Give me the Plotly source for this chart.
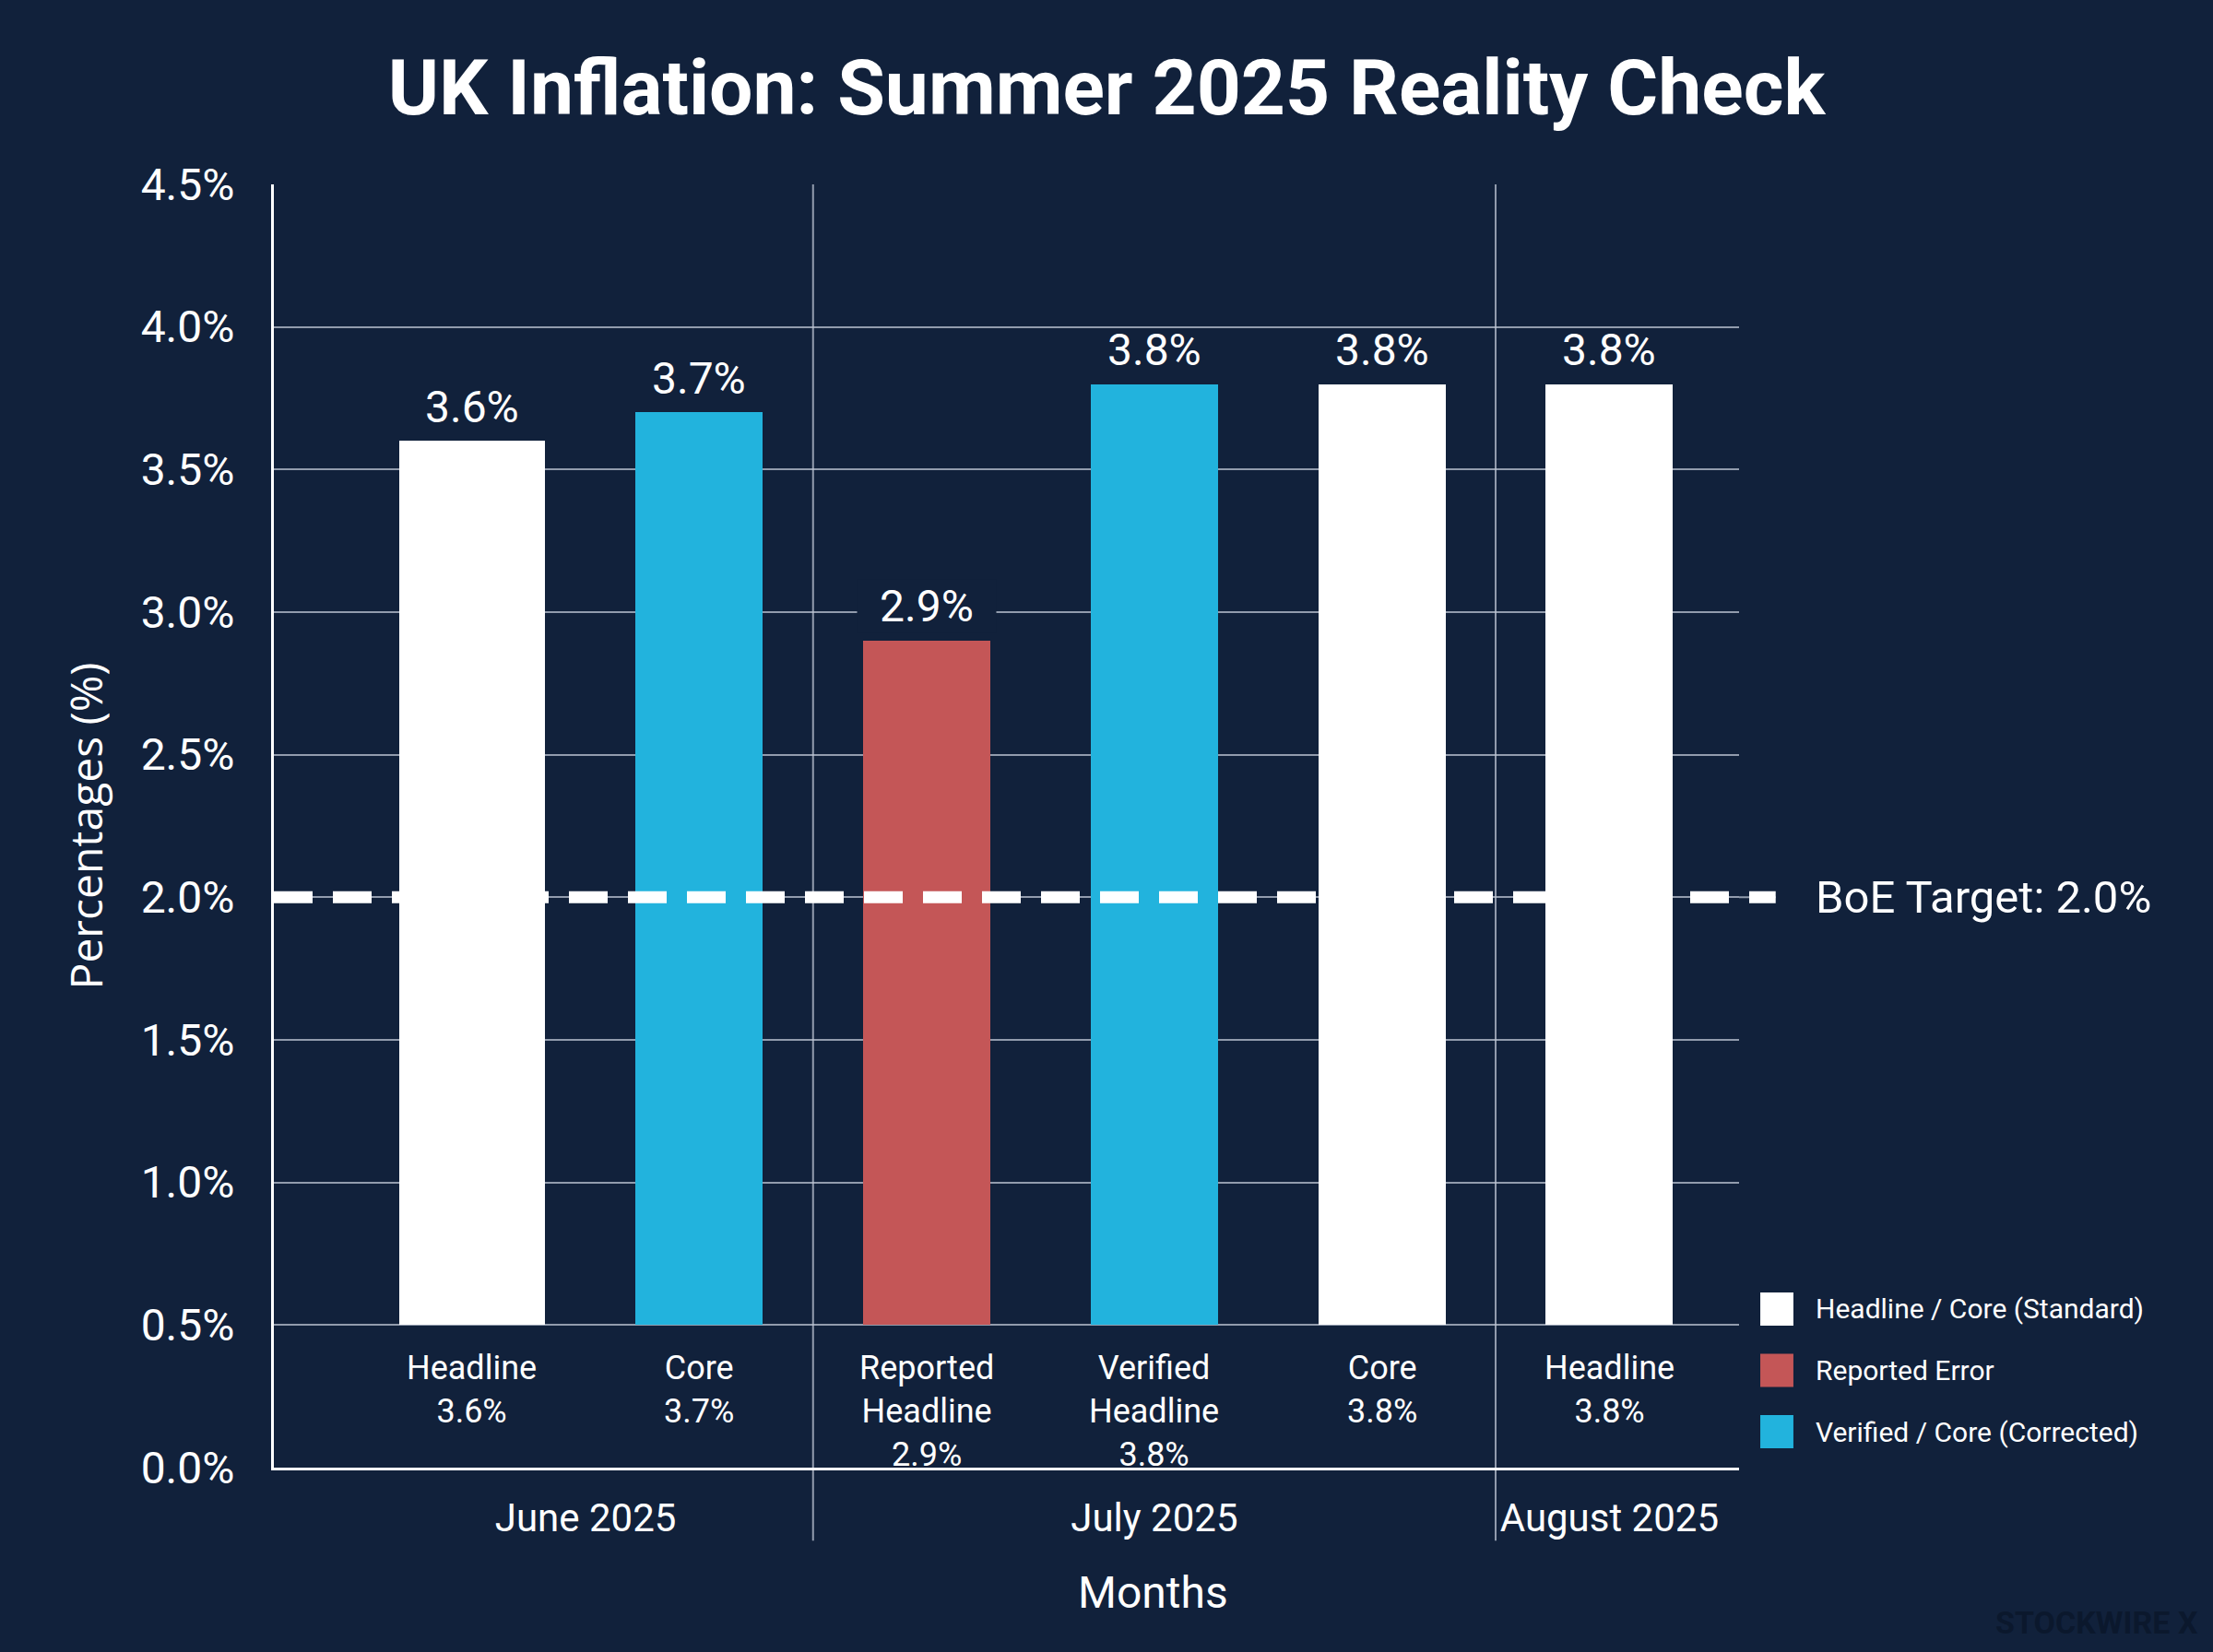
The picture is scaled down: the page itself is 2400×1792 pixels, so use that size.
import plotly.graph_objects as go

# Datos del gráfico
months = ["June 2025", "June 2025", "July 2025", "July 2025", "July 2025", "August 2025"]
measures = ["Headline", "Core", "Reported<br>Headline", "Verified<br>Headline", "Core", "Headline"]
values = [3.6, 3.7, 2.9, 3.8, 3.8, 3.8]
series = [
    "Headline / Core (Standard)",
    "Verified / Core (Corrected)",
    "Reported Error",
    "Verified / Core (Corrected)",
    "Headline / Core (Standard)",
    "Headline / Core (Standard)",
]
legend_order = ["Headline / Core (Standard)", "Reported Error", "Verified / Core (Corrected)"]
boe_target = 2.0
y_ticks = [0.0, 0.5, 1.0, 1.5, 2.0, 2.5, 3.0, 3.5, 4.0, 4.5]

# Estilo
BG = "#11213b"
GRID = "rgba(190,198,212,0.75)"
colores = {
    "Headline / Core (Standard)": "#ffffff",
    "Reported Error": "#c45657",
    "Verified / Core (Corrected)": "#22b3dd",
}
bar_widths = [0.64, 0.56, 0.56, 0.56, 0.56, 0.56]
BAR_BASE = 0.5   # las barras arrancan en la línea de 0.5%
FONT = "Roboto"

x_idx = list(range(len(values)))

fig = go.Figure()

for name in legend_order:
    idx = [i for i in x_idx if series[i] == name]
    fig.add_trace(go.Bar(
        x=idx,
        y=[values[i] - BAR_BASE for i in idx],
        base=BAR_BASE,
        width=[bar_widths[i] for i in idx],
        marker=dict(color=colores[name], line=dict(width=0)),
        name=name,
        showlegend=False,
        hovertext=[f"{months[i]} {measures[i].replace('<br>', ' ')}: {values[i]:.1f}%" for i in idx],
        hoverinfo="text",
    ))

# Etiquetas de valor sobre cada barra
for i, v in enumerate(values):
    label_center = v + 0.12
    near_grid = min(abs(label_center - t) for t in y_ticks) < 0.05
    fig.add_annotation(
        x=i, y=v, xref="x", yref="y",
        text=f"{v:.1f}%",
        showarrow=False, yanchor="middle", yshift=37,
        font=dict(family=FONT, size=48, color="white"),
        bgcolor=BG if near_grid else "rgba(0,0,0,0)",
        width=150 if near_grid else None,
        borderpad=0,
    )

# Etiquetas internas (categoría + valor) en la franja 0-0.5
for i, (m, v) in enumerate(zip(measures, values)):
    fig.add_annotation(
        x=i, y=BAR_BASE, xref="x", yref="y",
        text=f"{m}<br>{v:.1f}%",
        showarrow=False, yanchor="top", yshift=-24,
        font=dict(family=FONT, size=36, color="white"),
    )

# Separadores entre meses y centros de grupo
group_names = list(dict.fromkeys(months))
group_centers = []
for g in group_names:
    idx = [i for i in x_idx if months[i] == g]
    group_centers.append(sum(idx) / len(idx))
for a, b in zip(x_idx[:-1], x_idx[1:]):
    if months[a] != months[b]:
        fig.add_shape(
            type="line", xref="x", yref="paper",
            x0=(a + b) / 2, x1=(a + b) / 2, y0=-0.057, y1=1,
            line=dict(color=GRID, width=2), layer="below",
        )

# Línea objetivo BoE
fig.add_shape(
    type="line", xref="paper", yref="y",
    x0=1, x1=1.025, y0=boe_target, y1=boe_target,
    line=dict(color=GRID, width=2), layer="above",
)
fig.add_shape(
    type="line", xref="paper", yref="y",
    x0=0, x1=1.025, y0=boe_target, y1=boe_target,
    line=dict(color="white", width=13, dash="42px,22px"), layer="above",
)
fig.add_annotation(
    x=1.051, y=boe_target, xref="paper", yref="y",
    text=f"BoE Target: {boe_target:.1f}%",
    showarrow=False, xanchor="left", yanchor="middle",
    font=dict(family=FONT, size=49, color="white"),
)

# Leyenda manual (cuadros grandes)
for k, name in enumerate(legend_order):
    yc = 0.1236 - k * 0.0478
    fig.add_shape(
        type="rect", xref="paper", yref="paper",
        x0=1.0145, x1=1.0371, y0=yc - 0.0129, y1=yc + 0.0129,
        fillcolor=colores[name], line=dict(width=0),
    )
    fig.add_annotation(
        x=1.051, y=yc, xref="paper", yref="paper",
        text=name, showarrow=False, xanchor="left", yanchor="middle",
        font=dict(family=FONT, size=30, color="white"),
    )

# Título del eje X (desplazado como en el original)
fig.add_annotation(
    x=0.600, y=-0.097, xref="paper", yref="paper",
    text="Months", showarrow=False, xanchor="center", yanchor="middle",
    font=dict(family=FONT, size=48, color="white"),
)

# Marca de agua
fig.add_annotation(
    x=1.3145, y=-0.121, xref="paper", yref="paper",
    text="<b>STOCKWIRE X</b>", showarrow=False, xanchor="right", yanchor="middle",
    font=dict(family=FONT, size=34, color="#0b182d"),
)

fig.update_layout(
    width=2400,
    height=1792,
    paper_bgcolor=BG,
    plot_bgcolor=BG,
    barmode="overlay",
    bargap=0,
    margin=dict(l=297, r=514, t=200, b=200),
    font=dict(family=FONT, size=40, color="white"),
    title=dict(
        text="<b>UK Inflation: Summer 2025 Reality Check</b>",
        x=0.5, xref="container", xanchor="center",
        y=0.947, yref="container", yanchor="middle",
        font=dict(family=FONT, size=84, color="white"),
    ),
    showlegend=False,
    xaxis=dict(
        range=[-0.87, 5.57],
        tickmode="array",
        tickvals=group_centers,
        ticktext=group_names,
        tickfont=dict(family=FONT, size=42, color="white"),
        ticks="",
        ticklabelstandoff=16,
        showgrid=False,
        zeroline=False,
        showline=True,
        linecolor="white",
        linewidth=3,
        automargin=False,
    ),
    yaxis=dict(
        range=[0, 4.5],
        tickmode="array",
        tickvals=y_ticks,
        ticktext=[f"{t:.1f}%" for t in y_ticks],
        tickfont=dict(family=FONT, size=48, color="white"),
        ticks="",
        ticklabelstandoff=30,
        showgrid=True,
        gridcolor=GRID,
        gridwidth=2,
        zeroline=False,
        showline=True,
        linecolor="white",
        linewidth=3,
        automargin=False,
        title=dict(text="Percentages (%)", standoff=26,
                   font=dict(family="Open Sans", size=48, color="white")),
    ),
)

fig.write_html(
    "out.html",
    config={"displayModeBar": False},
    post_script="document.body.style.margin='0';document.body.style.background='" + BG + "';",
)
